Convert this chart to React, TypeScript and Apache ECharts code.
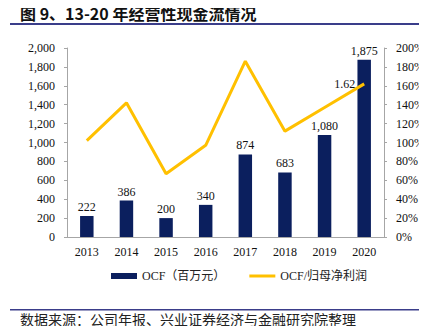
import React, { useEffect, useRef } from "react";
import * as echarts from "echarts";

const years = ["2013", "2014", "2015", "2016", "2017", "2018", "2019", "2020"];
const ocf = [222, 386, 200, 340, 874, 683, 1080, 1875];
const ocfRatio = [102, 142, 67, 97, 186, 112, 137, 162];
const leftTicks = { min: 0, max: 2000, interval: 200 };
const rightTicks = { min: 0, max: 200, interval: 20 };

const titleText = "图 9、13-20 年经营性现金流情况";
const sourceText = "数据来源：公司年报、兴业证券经济与金融研究院整理";
const barName = "OCF（百万元）";
const lineName = "OCF/归母净利润";

const serif = "'Liberation Serif', 'Times New Roman', serif";
const cjk = "'Noto Sans CJK SC', sans-serif";
const mixed = "'Liberation Serif', 'Noto Sans CJK SC', serif";

export default function App() {
  const ref = useRef<HTMLDivElement>(null);
  useEffect(() => {
    if (!ref.current) return;
    const chart = echarts.init(ref.current, null, { renderer: "svg" });
    const axisColor = "#a6a6a6";
    const lastIdx = ocfRatio.length - 1;
    chart.setOption({
      animation: false,
      backgroundColor: "#ffffff",
      grid: { left: 67, right: 41, top: 48, bottom: 97 },
      graphic: [
        {
          type: "text",
          left: 20,
          top: 5,
          style: {
            text: titleText,
            fontFamily: cjk,
            fontSize: 16,
            fontWeight: "bold",
            fill: "#111",
          },
        },
        {
          type: "rect",
          shape: { x: 10, y: 23, width: 417, height: 2 },
          style: { fill: "#3a3d8a" },
        },
        {
          type: "rect",
          shape: { x: 10, y: 309, width: 417, height: 1.5 },
          style: { fill: "#3a3d8a" },
        },
        {
          type: "text",
          left: 20,
          top: 312,
          style: { text: sourceText, fontFamily: cjk, fontSize: 14, fill: "#222" },
        },
      ],
      legend: {
        bottom: 47,
        left: 106,
        itemGap: 24,
        itemWidth: 26,
        itemHeight: 6,
        textStyle: { fontFamily: mixed, fontSize: 12, color: "#222" },
        data: [
          { name: barName, icon: "rect" },
          {
            name: lineName,
            icon: "path://M0,0H26V3H0Z",
            itemStyle: { borderWidth: 0 },
          },
        ],
      },
      xAxis: {
        type: "category",
        data: years,
        axisLine: { lineStyle: { color: axisColor } },
        axisTick: { inside: true, length: 4, lineStyle: { color: axisColor } },
        axisLabel: { fontFamily: serif, fontSize: 12, color: "#111", margin: 9 },
      },
      yAxis: [
        {
          type: "value",
          ...leftTicks,
          splitLine: { show: false },
          axisLine: { show: true, lineStyle: { color: axisColor } },
          axisTick: { show: true, length: 3, lineStyle: { color: axisColor } },
          axisLabel: {
            fontFamily: serif,
            fontSize: 12,
            color: "#111",
            margin: 12,
            formatter: (v: number) => v.toLocaleString("en-US"),
          },
        },
        {
          type: "value",
          ...rightTicks,
          splitLine: { show: false },
          axisLine: { show: true, lineStyle: { color: axisColor } },
          axisTick: { show: true, length: 3, lineStyle: { color: axisColor } },
          axisLabel: {
            fontFamily: serif,
            fontSize: 12,
            color: "#111",
            margin: 12,
            formatter: (v: number) => `${v}%`,
          },
        },
      ],
      series: [
        {
          name: barName,
          type: "bar",
          data: ocf,
          barWidth: "34%",
          itemStyle: { color: "#0b1f5e" },
          label: {
            show: true,
            position: "top",
            distance: 3,
            fontFamily: serif,
            fontSize: 12,
            color: "#111",
            formatter: (p: any) => Number(p.value).toLocaleString("en-US"),
          },
        },
        {
          name: lineName,
          type: "line",
          yAxisIndex: 1,
          data: ocfRatio,
          symbol: "none",
          lineStyle: { color: "#ffc000", width: 3 },
          itemStyle: { color: "#ffc000" },
          markPoint: {
            symbol: "circle",
            symbolSize: 0,
            data: [
              {
                coord: [lastIdx, ocfRatio[lastIdx]],
                value: ocfRatio[lastIdx],
              },
            ],
            label: {
              show: true,
              position: "left",
              distance: 9,
              fontFamily: serif,
              fontSize: 12,
              color: "#111",
              formatter: (p: any) => (p.value / 100).toFixed(2),
            },
          },
        },
      ],
    });
    return () => chart.dispose();
  }, []);
  return <div ref={ref} style={{ width: 427, height: 334, margin: -8 }} />;
}
